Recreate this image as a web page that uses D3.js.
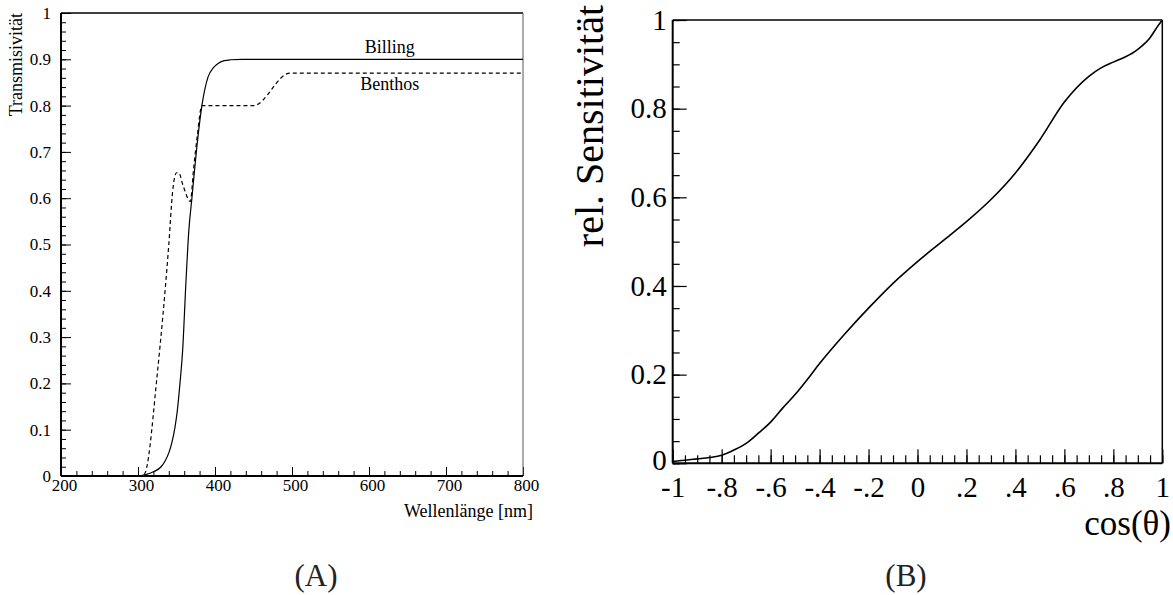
<!DOCTYPE html>
<html>
<head>
<meta charset="utf-8">
<script src="https://cdn.jsdelivr.net/npm/d3@7"></script>
<style>
  body { margin: 0; background: #fff; }
  text { font-family: "Liberation Serif", "Times New Roman", serif; fill: #000; }
</style>
</head>
<body>
<svg class="chart" width="1173" height="595"></svg>
<script>
// ---- data, panel A: transmissivity vs wavelength
var billingNm  = [200, 300, 310, 320, 330, 335, 340, 344, 348, 351, 354.5, 358, 362, 366, 370, 376, 383, 391, 398, 404, 412, 420, 435, 800];
var billingVal = [0, 0, 0.003, 0.009, 0.02, 0.032, 0.05, 0.072, 0.105, 0.14, 0.2, 0.272, 0.41, 0.53, 0.6, 0.704, 0.8, 0.862, 0.882, 0.891, 0.897, 0.899, 0.9, 0.9];
var benthosNm  = [200, 306, 310, 325, 340, 345, 350, 353, 358, 368, 372, 377, 383, 450, 497, 800];
var benthosVal = [0, 0, 0.01, 0.22, 0.5, 0.615, 0.655, 0.655, 0.63, 0.593, 0.66, 0.735, 0.8, 0.8, 0.87, 0.87];

var aXTicks = [200, 300, 400, 500, 600, 700, 800];
var aYTicks = [0, 0.1, 0.2, 0.3, 0.4, 0.5, 0.6, 0.7, 0.8, 0.9, 1];
var aYLabels = ["0", "0.1", "0.2", "0.3", "0.4", "0.5", "0.6", "0.7", "0.8", "0.9", "1"];

// ---- data, panel B: relative sensitivity vs cos(theta)
var cosTheta = [-1, -0.95, -0.9, -0.85, -0.8, -0.75, -0.7, -0.65, -0.6, -0.55, -0.5, -0.45, -0.4, -0.3, -0.2, -0.1, 0, 0.1, 0.2, 0.3, 0.4, 0.5, 0.6, 0.7, 0.75, 0.8, 0.85, 0.9, 0.95, 0.98, 1];
var sensVal  = [0.004, 0.007, 0.010, 0.013, 0.018, 0.030, 0.045, 0.068, 0.093, 0.125, 0.155, 0.189, 0.225, 0.290, 0.350, 0.406, 0.455, 0.500, 0.545, 0.595, 0.655, 0.730, 0.815, 0.873, 0.892, 0.905, 0.917, 0.934, 0.960, 0.985, 1.0];

var bXTicks = [-1, -0.8, -0.6, -0.4, -0.2, 0, 0.2, 0.4, 0.6, 0.8, 1];
var bXLabels = ["-1", "-.8", "-.6", "-.4", "-.2", "0", ".2", ".4", ".6", ".8", "1"];
var bYTicks = [0, 0.2, 0.4, 0.6, 0.8, 1];
var bYLabels = ["0", "0.2", "0.4", "0.6", "0.8", "1"];

var svg = d3.select("svg.chart");

function range(a, b, step) {
  return d3.range(Math.round((b - a) / step) + 1).map(function(i) { return +(a + i * step).toFixed(6); });
}

// ===================== panel A
var ax = d3.scaleLinear().domain([200, 800]).range([61, 523]);
var ay = d3.scaleLinear().domain([0, 1]).range([476, 13]);
var ga = svg.append("g");

// minor ticks
ga.append("g").attr("transform", "translate(0," + ay(0) + ")")
  .call(d3.axisBottom(ax).tickValues(range(200, 800, 20)).tickSize(-5).tickFormat(""))
  .call(function(g) { g.select(".domain").remove(); });
ga.append("g").attr("transform", "translate(" + ax(200) + ",0)")
  .call(d3.axisLeft(ay).tickValues(range(0, 1, 0.02)).tickSize(-5).tickFormat(""))
  .call(function(g) { g.select(".domain").remove(); });
// major ticks + labels
ga.append("g").attr("transform", "translate(0," + ay(0) + ")")
  .call(d3.axisBottom(ax).tickValues(aXTicks).tickSize(-9).tickPadding(3).tickFormat(d3.format("d")))
  .call(function(g) {
    g.select(".domain").remove();
    g.selectAll("text").attr("dx", 3).style("font-size", "17px");
  });
ga.append("g").attr("transform", "translate(" + ax(200) + ",0)")
  .call(d3.axisLeft(ay).tickValues(aYTicks).tickSize(-10).tickPadding(10)
    .tickFormat(function(d, i) { return aYLabels[i]; }))
  .call(function(g) {
    g.select(".domain").remove();
    g.selectAll("text").style("font-size", "17px");
  });
ga.selectAll(".tick line").attr("stroke", "#000");

// frame
ga.append("line").attr("x1", ax(200)).attr("x2", ax(800)).attr("y1", ay(1)).attr("y2", ay(1)).attr("stroke", "#000").attr("stroke-width", 1.3);
ga.append("line").attr("x1", ax(800)).attr("x2", ax(800)).attr("y1", ay(1)).attr("y2", ay(0)).attr("stroke", "#555").attr("stroke-width", 1);
ga.append("line").attr("x1", ax(200)).attr("x2", ax(800)).attr("y1", ay(0)).attr("y2", ay(0)).attr("stroke", "#000").attr("stroke-width", 2);
ga.append("line").attr("x1", ax(200)).attr("x2", ax(200)).attr("y1", ay(1)).attr("y2", ay(0)).attr("stroke", "#000").attr("stroke-width", 2);

var lineA = d3.line().x(function(d) { return ax(d[0]); }).y(function(d) { return ay(d[1]); }).curve(d3.curveMonotoneX);
ga.append("path").datum(d3.zip(billingNm, billingVal))
  .attr("fill", "none").attr("stroke", "#000").attr("stroke-width", 1.2).attr("d", lineA);
ga.append("path").datum(d3.zip(benthosNm, benthosVal))
  .attr("fill", "none").attr("stroke", "#000").attr("stroke-width", 1.2).attr("stroke-dasharray", "4,3").attr("d", lineA);

ga.append("text").attr("x", ax(627)).attr("y", ay(0.9) - 6).attr("text-anchor", "middle").style("font-size", "18px").text("Billing");
ga.append("text").attr("x", ax(627)).attr("y", ay(0.87) + 17).attr("text-anchor", "middle").style("font-size", "18px").text("Benthos");
ga.append("text").attr("x", ax(800) + 10).attr("y", ay(0) + 41).attr("text-anchor", "end").style("font-size", "18px").text("Wellenlänge [nm]");
ga.append("text").attr("transform", "translate(22," + ay(1) + ") rotate(-90)").attr("text-anchor", "end").style("font-size", "18px").text("Transmisivität");
ga.append("text").attr("x", 316).attr("y", 586).attr("text-anchor", "middle").style("font-size", "31px").style("fill", "#222").text("(A)");

// ===================== panel B
var bx = d3.scaleLinear().domain([-1, 1]).range([672.7, 1162.3]);
var by = d3.scaleLinear().domain([0, 1]).range([463.3, 20]);
var gb = svg.append("g");

gb.append("g").attr("transform", "translate(0," + by(0) + ")")
  .call(d3.axisBottom(bx).tickValues(range(-1, 1, 0.05)).tickSize(-8).tickFormat(""))
  .call(function(g) { g.select(".domain").remove(); });
gb.append("g").attr("transform", "translate(" + bx(-1) + ",0)")
  .call(d3.axisLeft(by).tickValues(range(0, 1, 0.05)).tickSize(-7).tickFormat(""))
  .call(function(g) { g.select(".domain").remove(); });
gb.append("g").attr("transform", "translate(0," + by(0) + ")")
  .call(d3.axisBottom(bx).tickValues(bXTicks).tickSize(-14).tickPadding(13)
    .tickFormat(function(d, i) { return bXLabels[i]; }))
  .call(function(g) {
    g.select(".domain").remove();
    g.selectAll("text").style("font-size", "29px");
  });
gb.append("g").attr("transform", "translate(" + bx(-1) + ",0)")
  .call(d3.axisLeft(by).tickValues(bYTicks).tickSize(-14).tickPadding(6)
    .tickFormat(function(d, i) { return bYLabels[i]; }))
  .call(function(g) {
    g.select(".domain").remove();
    g.selectAll("text").style("font-size", "29px");
    g.selectAll("text").filter(function(d) { return d === 0; }).attr("dy", "0.22em");
  });
gb.selectAll(".tick line").attr("stroke", "#000").attr("stroke-width", 1.2);

gb.append("line").attr("x1", bx(-1)).attr("x2", bx(1)).attr("y1", by(1)).attr("y2", by(1)).attr("stroke", "#000").attr("stroke-width", 1.5);
gb.append("line").attr("x1", bx(1)).attr("x2", bx(1)).attr("y1", by(1)).attr("y2", by(0)).attr("stroke", "#000").attr("stroke-width", 1.5);
gb.append("line").attr("x1", bx(-1)).attr("x2", bx(1)).attr("y1", by(0)).attr("y2", by(0)).attr("stroke", "#000").attr("stroke-width", 2);
gb.append("line").attr("x1", bx(-1)).attr("x2", bx(-1)).attr("y1", by(1)).attr("y2", by(0)).attr("stroke", "#000").attr("stroke-width", 2);

var lineB = d3.line().x(function(d) { return bx(d[0]); }).y(function(d) { return by(d[1]); }).curve(d3.curveMonotoneX);
gb.append("path").datum(d3.zip(cosTheta, sensVal))
  .attr("fill", "none").attr("stroke", "#000").attr("stroke-width", 1.6).attr("d", lineB);

gb.append("text").attr("transform", "translate(603,5) rotate(-90)").attr("text-anchor", "end").style("font-size", "40px").text("rel. Sensitivität");
gb.append("text").attr("x", 1171).attr("y", 535).attr("text-anchor", "end").style("font-size", "35px").text("cos(θ)");
gb.append("text").attr("x", 906).attr("y", 586).attr("text-anchor", "middle").style("font-size", "31px").style("fill", "#222").text("(B)");
</script>
</body>
</html>
